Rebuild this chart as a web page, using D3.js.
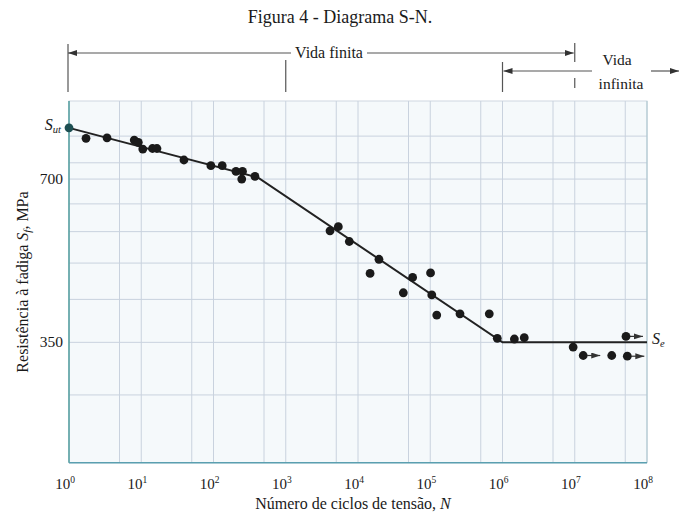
<!DOCTYPE html>
<html>
<head>
<meta charset="utf-8">
<script src="https://cdn.jsdelivr.net/npm/d3@7"></script>
<style>
  body { margin: 0; background: #fff; }
  text { font-family: "Liberation Serif", "Times New Roman", serif; fill: #1a1a1a; }
</style>
</head>
<body>
<div class="graph"></div>
<script>
// S-N diagram values (N in cycles, S in MPa)
const cycles = [1, 1.72, 3.36, 8.0, 9.1, 10.5, 14.3, 16.5, 39, 92, 132, 205, 252, 246, 375,
                4100, 5340, 7580, 19500, 14700, 57000, 101000, 42400, 105000, 123000, 258000, 656000,
                847000, 1.46e6, 2.0e6, 9.5e6, 1.31e7, 3.25e7, 5.12e7, 5.34e7];
const strength = [870, 832, 834, 826, 818, 795, 797, 797, 759, 741, 741, 723, 723, 700, 708,
                  562, 572, 537, 498, 469, 461, 470, 432, 428, 393, 395, 395,
                  356, 355, 357, 343, 331, 331, 359, 330];
const runout = [0,0,0,0,0,0,0,0,0,0,0,0,0,0,0, 0,0,0,0,0,0,0,0,0,0,0,0, 0,0,0,0,1,0,1,1];
const curveN = [1, 410, 1e6, 1e8];
const curveS = [870, 705, 350, 350];
const decades = [1, 10, 100, 1e3, 1e4, 1e5, 1e6, 1e7, 1e8];
const minorN = [5, 50, 500, 5e3, 5e4, 5e5, 5e6, 5e7];
const gridS = [280, 350, 420, 490, 560, 630, 700, 750, 840];
const labelS = [350, 700];

const svg = d3.select(".graph").append("svg").attr("width", 681).attr("height", 516);

const x = d3.scaleLog().domain([1, 1e8]).range([69, 647]);
const y = d3.scaleLog().domain([210, 975]).range([462.7, 101]);

const defs = svg.append("defs");
defs.append("marker").attr("id", "arr")
    .attr("markerUnits", "userSpaceOnUse")
    .attr("markerWidth", 10).attr("markerHeight", 8)
    .attr("refX", 9).attr("refY", 3).attr("orient", "auto-start-reverse")
    .append("path").attr("d", "M0,0 L9,3 L0,6 Z").attr("fill", "#333");

// title
svg.append("text").attr("x", 340).attr("y", 23).attr("text-anchor", "middle")
    .style("font-size", "18px").text("Figura 4 - Diagrama S-N.");

// plot background
svg.append("rect")
    .attr("x", x(1)).attr("y", y(975))
    .attr("width", x(1e8) - x(1)).attr("height", y(210) - y(975))
    .attr("fill", "#f5f9fb").attr("stroke", "#cfd8e2");

// grid
svg.append("g").selectAll("line").data(decades.slice(1, -1).concat(minorN)).join("line")
    .attr("x1", d => x(d)).attr("x2", d => x(d))
    .attr("y1", y(975)).attr("y2", y(210))
    .attr("stroke", "#c9d2de").attr("stroke-width", 1);
svg.append("g").selectAll("line").data(gridS).join("line")
    .attr("x1", x(1)).attr("x2", x(1e8))
    .attr("y1", d => y(d)).attr("y2", d => y(d))
    .attr("stroke", "#c9d2de").attr("stroke-width", 1);
svg.append("line").attr("x1", x(1e8)).attr("x2", x(1e8)).attr("y1", y(975)).attr("y2", y(210))
    .attr("stroke", "#a9c4cc");

// axes lines (left and bottom, teal)
svg.append("line").attr("x1", x(1)).attr("x2", x(1)).attr("y1", y(975)).attr("y2", y(210))
    .attr("stroke", "#4f9c9e").attr("stroke-width", 1.5);
svg.append("line").attr("x1", x(1)).attr("x2", x(1e8)).attr("y1", y(210)).attr("y2", y(210))
    .attr("stroke", "#5a9fb0").attr("stroke-width", 1.5);

// x tick labels 10^n
const xl = svg.append("g").selectAll("text").data(decades).join("text")
    .attr("x", d => x(d) - 4).attr("y", 489)
    .attr("text-anchor", "middle").style("font-size", "15px");
xl.append("tspan").text("10");
xl.append("tspan").attr("dy", -6).style("font-size", "9.5px").text(d => Math.round(Math.log10(d)));

// y tick labels
svg.append("g").selectAll("text").data(labelS).join("text")
    .attr("x", 63).attr("y", d => y(d) + 5)
    .attr("text-anchor", "end").style("font-size", "15.5px").text(d => d);

// S_ut label
const sut = svg.append("text").attr("x", 61).attr("y", y(curveS[0]) + 2)
    .attr("text-anchor", "end").style("font-size", "16px").style("font-style", "italic");
sut.append("tspan").text("S");
sut.append("tspan").attr("dy", 3).style("font-size", "10.5px").text("ut");

// S_e label
const se = svg.append("text").attr("x", 652).attr("y", y(350) + 2)
    .style("font-size", "16px").style("font-style", "italic");
se.append("tspan").text("S");
se.append("tspan").attr("dy", 3).style("font-size", "10.5px").text("e");

// axis titles
svg.append("text").attr("x", 353).attr("y", 509).attr("text-anchor", "middle")
    .style("font-size", "16px")
    .call(t => {
        t.append("tspan").text("Número de ciclos de tensão, ");
        t.append("tspan").style("font-style", "italic").text("N");
    });
svg.append("text").attr("transform", "translate(28,282) rotate(-90)").attr("text-anchor", "middle")
    .style("font-size", "16px")
    .call(t => {
        t.append("tspan").text("Resistência à fadiga ");
        t.append("tspan").style("font-style", "italic").text("S");
        t.append("tspan").attr("dy", 3).style("font-style", "italic").style("font-size", "11px").text("f");
        t.append("tspan").attr("dy", -3).text(", MPa");
    });

// fitted S-N curve
const curve = d3.line().x(d => x(d[0])).y(d => y(d[1]));
svg.append("path").attr("d", curve(d3.zip(curveN, curveS)))
    .attr("fill", "none").attr("stroke", "#222").attr("stroke-width", 2);

// runout arrows
const pts = d3.zip(cycles, strength, runout);
svg.append("g").selectAll("line").data(pts.filter(d => d[2])).join("line")
    .attr("x1", d => x(d[0]) + 4).attr("x2", d => x(d[0]) + 17)
    .attr("y1", d => y(d[1])).attr("y2", d => y(d[1]))
    .attr("stroke", "#333").attr("stroke-width", 1.2).attr("marker-end", "url(#arr)");

// test points
svg.append("g").selectAll("circle").data(pts).join("circle")
    .attr("cx", d => x(d[0])).attr("cy", d => y(d[1])).attr("r", 4.4)
    .attr("fill", (d, i) => i === 0 ? "#1d4f52" : "#1a1a1a");

// life regions annotation
const ann = svg.append("g").attr("stroke", "#555").attr("stroke-width", 1.2);
ann.append("line").attr("x1", x(1) - 1).attr("x2", x(1) - 1).attr("y1", 44).attr("y2", 92);
ann.append("line").attr("x1", x(1e3)).attr("x2", x(1e3)).attr("y1", 60).attr("y2", 92);
ann.append("line").attr("x1", x(1e6)).attr("x2", x(1e6)).attr("y1", 62).attr("y2", 92);
ann.append("line").attr("x1", x(1e7)).attr("x2", x(1e7)).attr("y1", 43).attr("y2", 62);
ann.append("line").attr("x1", x(1e7)).attr("x2", x(1e7)).attr("y1", 78).attr("y2", 88);
ann.append("line").attr("x1", 291).attr("x2", x(1) - 1).attr("y1", 53).attr("y2", 53)
    .attr("marker-end", "url(#arr)");
ann.append("line").attr("x1", 367).attr("x2", x(1e7) - 1).attr("y1", 53).attr("y2", 53)
    .attr("marker-end", "url(#arr)");
ann.append("line").attr("x1", 592).attr("x2", x(1e6) + 1).attr("y1", 71).attr("y2", 71)
    .attr("marker-end", "url(#arr)");
ann.append("line").attr("x1", 651).attr("x2", 679).attr("y1", 71).attr("y2", 71)
    .attr("marker-end", "url(#arr)");

svg.append("text").attr("x", 329).attr("y", 58).attr("text-anchor", "middle")
    .style("font-size", "16px").text("Vida finita");
svg.append("text").attr("x", 617).attr("y", 65).attr("text-anchor", "middle")
    .style("font-size", "15.5px").text("Vida");
svg.append("text").attr("x", 621).attr("y", 89).attr("text-anchor", "middle")
    .style("font-size", "15.5px").text("infinita");
</script>
</body>
</html>
